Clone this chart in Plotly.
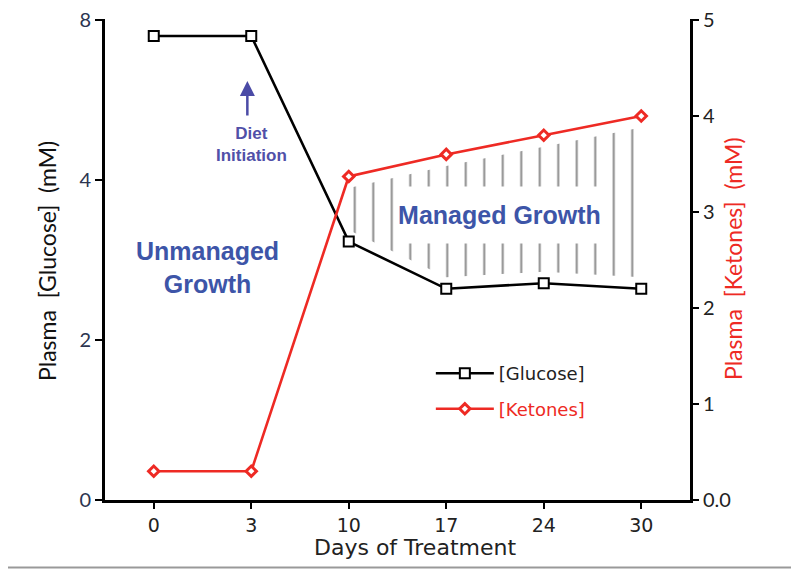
import plotly.graph_objects as go

# ---- data ----
days = ["0", "3", "10", "17", "24", "30"]
glucose = [7.6, 7.6, 3.23, 2.64, 2.71, 2.64]     # mM (left axis, broken above 4)
ketones = [0.30, 0.30, 3.37, 3.60, 3.80, 4.00]    # mM (right axis)
left_tick_vals = [0, 2, 4, 8]
right_tick_vals = [0, 1, 2, 3, 4, 5]
right_tick_text = ["0.0", "1", "2", "3", "4", "5"]

# left axis is linear up to 4 then compressed by 2 (axis break 4 -> 8)
def gpos(v):
    return v if v <= 4 else 4 + (v - 4) / 2.0

glu_pos = [gpos(v) for v in glucose]
LEFT_MAX = gpos(8)
RIGHT_MAX = 5.0

# page body has an 8px margin, so the figure is drawn 8px in from the window corner
W, H = 791, 564
ML, MR, MT, MB = 97, 109, 11, 72
PH = H - MT - MB
EXT = 1 + 1.0 / (PH - 1)   # tiny headroom so the top ticks are kept

BLUE = "#3d55a8"
RED = "#ee2a24"

fig = go.Figure()

# hatched "managed growth" region between the two curves (in right-axis units)
hatch_idx = [2, 3, 4, 5]
gap = 0.12
lower = [glu_pos[i] * RIGHT_MAX / LEFT_MAX + gap for i in hatch_idx]
upper = [ketones[i] - gap for i in hatch_idx]
hx = [days[i] for i in hatch_idx]
fig.add_trace(go.Scatter(x=hx, y=lower, yaxis="y2", mode="lines",
                         line=dict(width=0, color="rgba(0,0,0,0)"),
                         showlegend=False, hoverinfo="skip"))
fig.add_trace(go.Scatter(x=hx, y=upper, yaxis="y2", mode="lines",
                         line=dict(width=0, color="rgba(0,0,0,0)"),
                         fill="tonexty", fillcolor="rgba(0,0,0,0)",
                         fillpattern=dict(shape="|", size=18.5, solidity=0.11,
                                          fgcolor="#8c8c8c", bgcolor="rgba(0,0,0,0)",
                                          fillmode="replace"),
                         showlegend=False, hoverinfo="skip"))

fig.add_trace(go.Scatter(
    x=days, y=glu_pos, mode="lines+markers", name='<span style="color:#222">[Glucose]</span>',
    line=dict(color="black", width=2.6),
    marker=dict(symbol="square", size=10, color="white", line=dict(color="black", width=2)),
    legend="legend"))
fig.add_trace(go.Scatter(
    x=days, y=ketones, yaxis="y2", mode="lines+markers",
    name='<span style="color:%s">[Ketones]</span>' % RED,
    line=dict(color=RED, width=2.6),
    marker=dict(symbol="diamond", size=8, color="white", line=dict(color=RED, width=3)),
    legend="legend2"))

axis_common = dict(showline=True, linecolor="black", linewidth=3, ticks="outside",
                   tickcolor="black", tickwidth=2, showgrid=False, zeroline=False,
                   ticklabeloverflow="allow", automargin=False)

fig.update_layout(
    width=W, height=H,
    margin=dict(l=ML, r=MR, t=MT, b=MB, autoexpand=False),
    paper_bgcolor="white", plot_bgcolor="white",
    showlegend=True,
    xaxis=dict(type="category", categoryorder="array", categoryarray=days,
               range=[-0.5, 5.5], ticklen=6,
               tickfont=dict(family="DejaVu Sans", size=19, color="#222"),
               **axis_common),
    yaxis=dict(range=[0, LEFT_MAX * EXT], tickvals=[gpos(v) for v in left_tick_vals],
               ticktext=[str(v) for v in left_tick_vals], ticklen=7,
               tickfont=dict(family="Lato", size=20, color="#2c3550"),
               **axis_common),
    yaxis2=dict(range=[0, RIGHT_MAX * EXT], overlaying="y", side="right",
                tickvals=right_tick_vals, ticktext=right_tick_text, ticklen=6,
                tickfont=dict(family="Lato", size=20, color="#222"),
                **axis_common),
    legend=dict(x=0.557, y=0.263, xanchor="left", yanchor="middle", itemwidth=58,
                bgcolor="rgba(0,0,0,0)", font=dict(family="DejaVu Sans", size=18)),
    legend2=dict(x=0.557, y=0.189, xanchor="left", yanchor="middle", itemwidth=58,
                 bgcolor="rgba(0,0,0,0)", font=dict(family="DejaVu Sans", size=18)),
)

# axis titles
fig.add_annotation(x=-0.099, y=0.497, xref="paper", yref="paper", textangle=-90,
                   xanchor="center", yanchor="middle", showarrow=False,
                   text="Plasma\u00a0\u00a0[Glucose]\u00a0\u00a0(mM)",
                   font=dict(family="Lato", size=23, color="#111"))
fig.add_annotation(x=1.0735, y=0.503, xref="paper", yref="paper", textangle=-90,
                   xanchor="center", yanchor="middle", showarrow=False,
                   text="Plasma\u00a0\u00a0[Ketones]\u00a0\u00a0(mM)",
                   font=dict(family="Lato", size=23, color=RED))
fig.add_annotation(x=0.53, y=-0.0985, xref="paper", yref="paper",
                   xanchor="center", yanchor="middle", showarrow=False,
                   text="Days of Treatment",
                   font=dict(family="DejaVu Sans", size=22, color="#222"))

fig.add_annotation(x=3.55, y=2.97, xref="x", yref="y2", text="<b>Managed Growth</b>",
                   xanchor="center", yanchor="middle", width=205, height=56,
                   showarrow=False, bgcolor="white", borderpad=0,
                   font=dict(family="Liberation Sans", size=25, color=BLUE))
fig.add_annotation(x=0.556, y=0.4825, xref="x", yref="paper", text="<b>Unmanaged<br>Growth</b>",
                   xanchor="center", yanchor="middle",
                   showarrow=False, font=dict(family="Liberation Sans", size=25, color=BLUE))
fig.add_annotation(x=1.0, y=0.739, xref="x", yref="paper", text="<b>Diet<br>Initiation</b>",
                   xanchor="center", yanchor="middle",
                   showarrow=False, font=dict(family="Liberation Sans", size=17, color="#5050a8"))
fig.add_annotation(x=0.96, y=0.871, xref="x", yref="paper", text="", showarrow=True,
                   ax=0, ay=36, arrowhead=2, arrowsize=1.2, arrowwidth=2.5, arrowcolor="#4b4ba6")

# grey frame of the picture (right and bottom edges fall inside the page)
pw = W - ML - MR
fig.add_shape(type="rect", xref="paper", yref="paper",
              x0=-(ML + 20) / pw, x1=1 + (MR - 1.5) / pw,
              y0=-(MB - 4.5) / PH, y1=1 + (MT + 20) / PH,
              line=dict(color="#999", width=2))

fig.write_html("out.html")
